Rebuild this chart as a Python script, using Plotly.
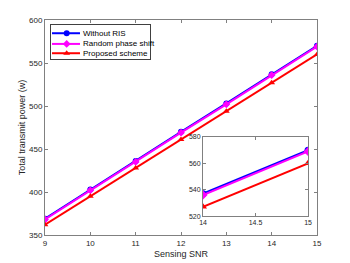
import plotly.graph_objects as go

snr = [9, 10, 11, 12, 13, 14, 15]
without_ris = [369, 403, 436, 470, 503, 537, 570]
random_phase = [368, 402, 435, 469, 502, 536, 569]
proposed = [362, 395, 428, 461, 494, 527, 560]

inset_snr = [14, 15]
inset_without = [537, 570]
inset_random = [536, 569]
inset_proposed = [527, 560]

names = ["Without RIS", "Random phase shift", "Proposed scheme"]
colors = ["#0000ff", "#ff00ff", "#ff0000"]
symbols = ["circle", "diamond", "triangle-up"]
mains = [without_ris, random_phase, proposed]
insets = [inset_without, inset_random, inset_proposed]

fig = go.Figure()
for name, main, col, sym in zip(names, mains, colors, symbols):
    fig.add_trace(go.Scatter(x=snr, y=main, name=name, mode="lines+markers",
                             showlegend=False,
                             line=dict(color=col, width=2),
                             marker=dict(symbol=sym, size=6, color=col)))
for name, ins, col, sym in zip(names, insets, colors, symbols):
    fig.add_trace(go.Scatter(x=inset_snr, y=ins, name=name, mode="lines+markers",
                             showlegend=False, xaxis="x2", yaxis="y2",
                             line=dict(color=col, width=2),
                             marker=dict(symbol=sym, size=7, color=col)))

# legend drawn in its own small axes
leg_rows = [8.3, 19, 28.3]
for name, col, sym, yy in zip(names, colors, symbols, leg_rows):
    fig.add_trace(go.Scatter(x=[1, 29], y=[yy, yy], mode="lines", xaxis="x3", yaxis="y3",
                             showlegend=False, hoverinfo="skip",
                             line=dict(color=col, width=2)))
    fig.add_trace(go.Scatter(x=[15.7], y=[yy], mode="markers", xaxis="x3", yaxis="y3",
                             showlegend=False, hoverinfo="skip",
                             marker=dict(symbol=sym, size=6, color=col)))
    fig.add_annotation(x=30.5, y=yy, xref="x3", yref="y3", text=name, showarrow=False,
                       xanchor="left", yanchor="middle",
                       font=dict(size=8, color="#000000"))

axcommon = dict(showline=True, linecolor="#808080", linewidth=1, mirror="ticks",
                ticks="inside", ticklen=3, tickcolor="#808080", showgrid=False,
                zeroline=False, automargin=False, tickfont=dict(size=8, color="#262626"))
insfont = dict(size=7, color="#262626")

fig.update_layout(
    template="none",
    width=350, height=263,
    margin=dict(l=45, r=33, t=20, b=28),
    paper_bgcolor="white", plot_bgcolor="white",
    font=dict(family="Liberation Sans, Arial, sans-serif", size=8, color="#262626"),
    xaxis=dict(range=[9, 15], tickvals=snr, domain=[0, 1],
               title=dict(text="Sensing SNR", font=dict(size=9), standoff=4), **axcommon),
    yaxis=dict(range=[350, 600], tickvals=[350, 400, 450, 500, 550, 600],
               title=dict(text="Total transmit power (w)", font=dict(size=9), standoff=1), **axcommon),
    xaxis2=dict(range=[14, 15], tickvals=[14, 14.5, 15], domain=[0.581, 0.967],
                anchor="y2", **{**axcommon, "tickfont": insfont}),
    yaxis2=dict(range=[520, 580], tickvals=[520, 540, 560, 580], domain=[0.088, 0.456],
                anchor="x2", **{**axcommon, "tickfont": insfont}),
    xaxis3=dict(range=[0, 99], domain=[0.022, 0.386], anchor="y3", showline=True,
                mirror=True, linecolor="#404040", linewidth=1, showticklabels=False,
                ticks="", showgrid=False, zeroline=False, fixedrange=True),
    yaxis3=dict(range=[34, 0], domain=[0.819, 0.977], anchor="x3", showline=True,
                mirror=True, linecolor="#404040", linewidth=1, showticklabels=False,
                ticks="", showgrid=False, zeroline=False, fixedrange=True),
    showlegend=False,
)

fig.write_html("out.html", config={"displayModeBar": False},
               post_script="document.body.style.margin='0px';document.body.style.overflow='hidden';")
